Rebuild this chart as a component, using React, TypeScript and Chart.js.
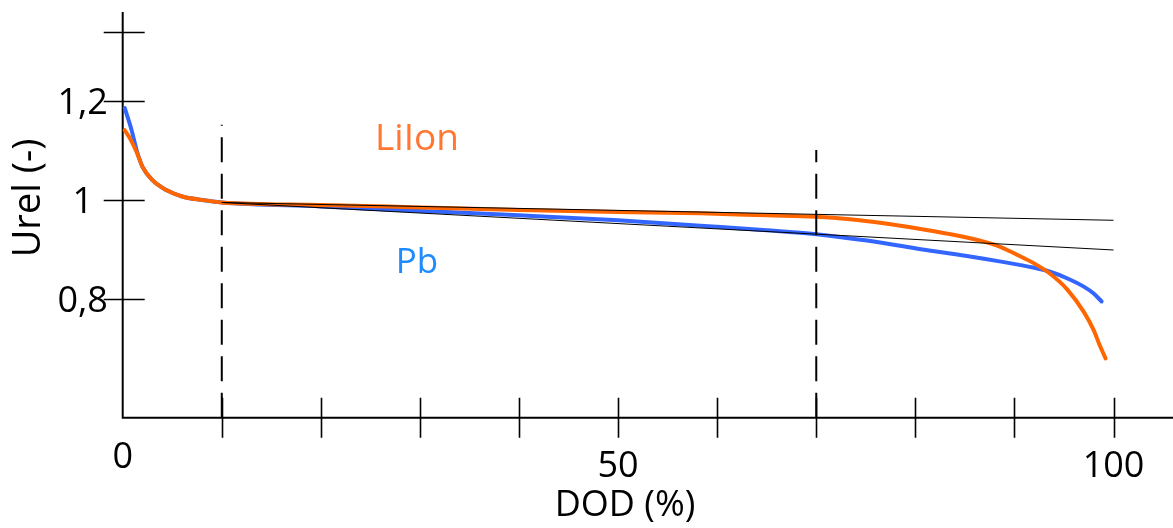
import React, { useEffect, useRef } from "react";
import { Chart, registerables } from "chart.js";

Chart.register(...registerables);

// Li-Ion discharge curve (DOD %, Urel)
const liionDod = [0.2, 0.8, 1.4, 2, 3, 4.4, 6, 8, 10, 20, 30, 40, 50, 58.3, 65, 70, 73.4, 76.8, 80.1, 83.5, 86.9, 88.5, 90.2, 91.9, 93.6, 95.3, 97, 98, 98.6, 99.2];
const liionU = [1.141, 1.122, 1.097, 1.067, 1.04, 1.02, 1.007, 1.0, 0.995, 0.99, 0.985, 0.98, 0.976, 0.973, 0.969, 0.966, 0.961, 0.953, 0.943, 0.931, 0.916, 0.906, 0.89, 0.873, 0.851, 0.82, 0.774, 0.737, 0.707, 0.68];

// Pb discharge curve
const pbDod = [0.2, 0.9, 1.4, 2, 3, 4.4, 6, 8, 10, 20, 30, 40, 50, 58.3, 65, 70, 75.1, 80.1, 85.2, 88.5, 91.9, 93.6, 95.3, 97, 98, 98.8];
const pbU = [1.186, 1.141, 1.101, 1.067, 1.04, 1.02, 1.007, 1.0, 0.995, 0.987, 0.978, 0.969, 0.959, 0.948, 0.939, 0.931, 0.918, 0.902, 0.887, 0.876, 0.8635, 0.855, 0.842, 0.825, 0.811, 0.795];

// thin straight reference lines
const refDod = [10, 100];
const refLiIonU = [0.995, 0.959];
const refPbU = [0.995, 0.899];

// dashed vertical markers
const markerDod = [10, 70];
const markerTop = [1.152, 1.101];

// axes
const axisBottom = 0.56;
const axisTop = 1.38;
const xTicks = [10, 20, 30, 40, 50, 60, 70, 80, 90, 100];
const xLabelValues = [0, 50, 100];
const xLabels = ["0", "50", "100"];
const yTicks = [0.8, 1.0, 1.2, 1.34];
const yLabels = ["0,8", "1", "1,2", ""];

const FONT = '"Open Sans", "Noto Sans", sans-serif';

const pts = (xs: number[], ys: number[]) => xs.map((x, i) => ({ x, y: ys[i] }));

export default function App() {
  const ref = useRef<HTMLCanvasElement | null>(null);

  useEffect(() => {
    document.body.style.margin = "0";
    const canvas = ref.current!;
    const axesPlugin = {
      id: "customAxes",
      beforeDatasetsDraw(chart: any) {
        const { ctx } = chart;
        const xs = chart.scales.x;
        const ys = chart.scales.y;
        const x0 = xs.getPixelForValue(0);
        const yb = ys.getPixelForValue(axisBottom);
        ctx.save();
        ctx.strokeStyle = "#000";
        ctx.lineWidth = 2;
        ctx.beginPath();
        ctx.moveTo(x0, ys.getPixelForValue(axisTop));
        ctx.lineTo(x0, yb);
        ctx.lineTo(chart.width, yb);
        ctx.stroke();
        ctx.lineWidth = 1.6;
        ctx.beginPath();
        xTicks.forEach((v) => {
          const px = Math.round(xs.getPixelForValue(v)) + 0.5;
          ctx.moveTo(px, yb - 20);
          ctx.lineTo(px, yb + 20);
        });
        yTicks.forEach((v) => {
          const py = Math.round(ys.getPixelForValue(v)) + 0.5;
          ctx.moveTo(x0 - 19, py);
          ctx.lineTo(x0 + 22, py);
        });
        ctx.stroke();
        ctx.restore();
      },
      afterDraw(chart: any) {
        const { ctx } = chart;
        const xs = chart.scales.x;
        const ys = chart.scales.y;
        const x0 = xs.getPixelForValue(0);
        const yb = ys.getPixelForValue(axisBottom);
        ctx.save();
        ctx.fillStyle = "#000";
        ctx.font = `36px ${FONT}`;
        ctx.textAlign = "center";
        ctx.textBaseline = "alphabetic";
        yLabels.forEach((t, i) => {
          if (!t) return;
          ctx.fillText(t, x0 - 40, ys.getPixelForValue(yTicks[i]) + 13);
        });
        xLabels.forEach((t, i) => {
          const v = xLabelValues[i];
          ctx.fillText(t, xs.getPixelForValue(v), yb + (v === 0 ? 50 : 59));
        });
        ctx.fillText("DOD (%)", xs.getPixelForValue(50.7), yb + 98);
        ctx.save();
        ctx.font = `38px ${FONT}`;
        ctx.translate(40, 198);
        ctx.rotate(-Math.PI / 2);
        ctx.fillText("Urel (-)", 0, 0);
        ctx.restore();
        ctx.font = `37px ${FONT}`;
        ctx.fillStyle = "#FF7733";
        ctx.fillText("LiIon", 417, 150);
        ctx.font = `35px ${FONT}`;
        ctx.fillStyle = "#1E8CFF";
        ctx.fillText("Pb", 417, 273);
        ctx.restore();
      },
    };

    const chart = new Chart(canvas, {
      type: "scatter",
      data: {
        datasets: [
          ...markerDod.map((d, i) => ({
            data: [
              { x: d, y: axisBottom },
              { x: d, y: markerTop[i] },
            ],
            showLine: true,
            borderColor: "#000",
            borderWidth: 2,
            borderDash: [25, 11.5],
            pointRadius: 0,
          })),
          {
            data: pts(refDod, refLiIonU),
            showLine: true,
            borderColor: "#000",
            borderWidth: 1,
            pointRadius: 0,
          },
          {
            data: pts(refDod, refPbU),
            showLine: true,
            borderColor: "#000",
            borderWidth: 1,
            pointRadius: 0,
          },
          {
            data: pts(liionDod, liionU),
            showLine: true,
            borderColor: "#FF6600",
            borderWidth: 4,
            borderCapStyle: "round",
            cubicInterpolationMode: "monotone",
            pointRadius: 0,
          },
          {
            data: pts(pbDod, pbU),
            showLine: true,
            borderColor: "#3366FF",
            borderWidth: 4,
            borderCapStyle: "round",
            cubicInterpolationMode: "monotone",
            pointRadius: 0,
          },
        ],
      },
      options: {
        animation: false,
        responsive: false,
        devicePixelRatio: 1,
        layout: { padding: 0 },
        plugins: { legend: { display: false }, tooltip: { enabled: false } },
        scales: {
          x: { type: "linear", min: -12.384, max: 106.005, display: false },
          y: { type: "linear", min: 0.33737, max: 1.40404, display: false },
        },
      },
      plugins: [axesPlugin],
    } as any);
    return () => chart.destroy();
  }, []);

  return <canvas ref={ref} width={1173} height={528} style={{ display: "block" }} />;
}
